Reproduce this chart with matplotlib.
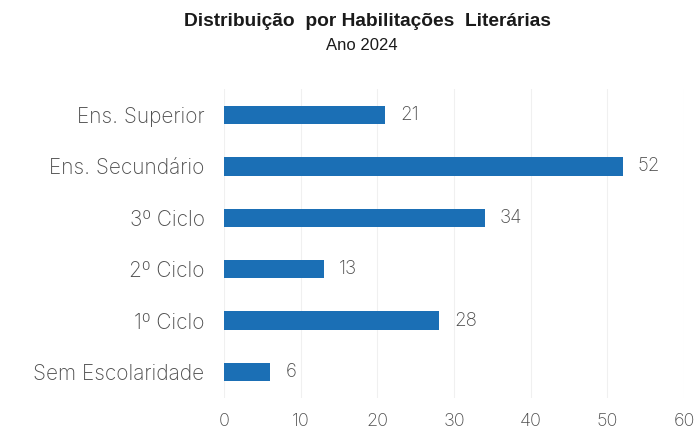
import matplotlib
matplotlib.use("Agg")
import matplotlib.pyplot as plt

categories = ["Ens. Superior", "Ens. Secundário", "3º Ciclo", "2º Ciclo", "1º Ciclo", "Sem Escolaridade"]
values = [21, 52, 34, 13, 28, 6]
xticks = [0, 10, 20, 30, 40, 50, 60]

title = "Distribuição  por Habilitações  Literárias"
subtitle = "Ano 2024"

bar_color = "#1b6fb5"
text_color = "#4d4d4d"
font = "Inter"
weight = "light"

fig = plt.figure(figsize=(6.98, 4.48), dpi=100)
ax = fig.add_axes([0.321, 0.112, 0.659, 0.689])

n = len(categories)
ypos = list(range(n - 1, -1, -1))
ax.barh(ypos, values, height=0.36, color=bar_color, zorder=3)
for y, v in zip(ypos, values):
    ax.annotate(str(v), (v, y), xytext=(11, 0), textcoords="offset points",
                va="center", ha="left", fontsize=13.5, color=text_color,
                family=font, fontweight=weight)

ax.set_xlim(0, 60)
ax.set_ylim(-0.5, n - 0.5)
ax.set_yticks(ypos)
ax.set_yticklabels(categories, fontsize=15, color=text_color, family=font,
                   fontweight=weight)
ax.set_xticks(xticks)
ax.set_xticklabels([str(t) for t in xticks], fontsize=13, color=text_color,
                   family=font, fontweight=weight)
ax.tick_params(axis="both", length=0)
ax.tick_params(axis="y", pad=14)
ax.tick_params(axis="x", pad=11)
ax.xaxis.grid(True, color="#f0f0f0", linewidth=0.8, zorder=0)
for s in ax.spines.values():
    s.set_visible(False)

fig.text(0.526, 0.951, title, ha="center", va="center", fontsize=13.8,
         fontweight="bold", family="Liberation Sans", color="#1a1a1a")
fig.text(0.519, 0.899, subtitle, ha="center", va="center", fontsize=12,
         family="Liberation Sans", color="#1a1a1a")

fig.savefig("out.png", dpi=100, facecolor="white")
